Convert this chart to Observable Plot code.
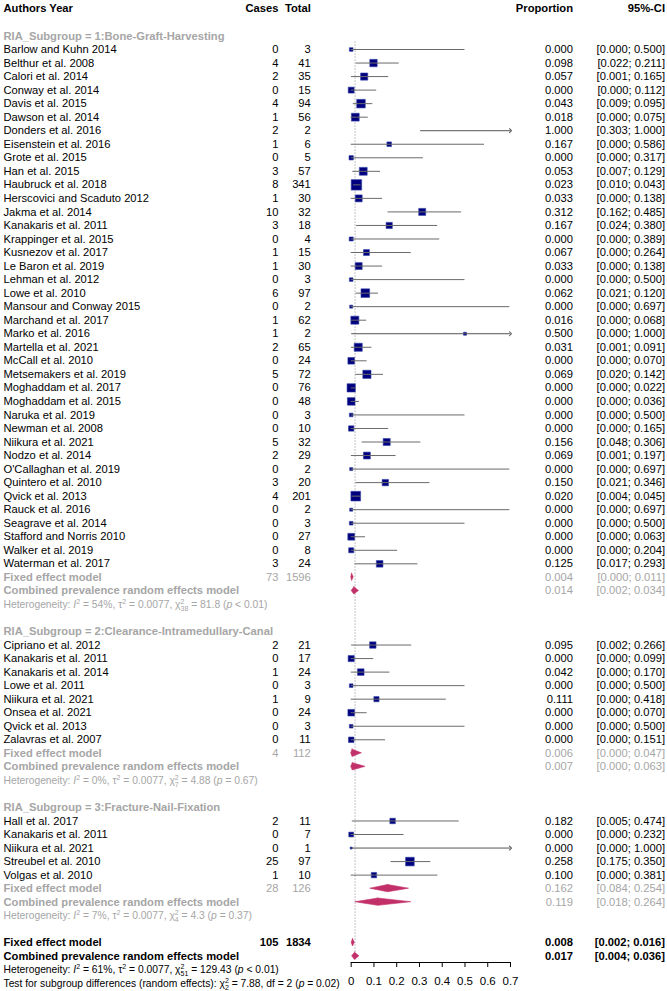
<!DOCTYPE html>
<html><head><meta charset="utf-8">
<script src="https://cdn.jsdelivr.net/npm/d3@7"></script>
<script src="https://cdn.jsdelivr.net/npm/@observablehq/plot@0.6"></script>
<style>body{margin:0;background:#fff}</style>
</head><body><div id="chart"></div>
<script>
// ---------- DATA ----------
const headerLabels = ["Authors Year", "Cases", "Total", "Proportion", "95%-CI"];
const subgroupLabels = ["RIA_Subgroup = 1:Bone-Graft-Harvesting", "RIA_Subgroup = 2:Clearance-Intramedullary-Canal", "RIA_Subgroup = 3:Fracture-Nail-Fixation"];

const sg1Authors = ["Barlow and Kuhn 2014","Belthur et al. 2008","Calori et al. 2014","Conway et al. 2014","Davis et al. 2015","Dawson et al. 2014","Donders et al. 2016","Eisenstein et al. 2016","Grote et al. 2015","Han et al. 2015","Haubruck et al. 2018","Herscovici and Scaduto 2012","Jakma et al. 2014","Kanakaris et al. 2011","Krappinger et al. 2015","Kusnezov et al. 2017","Le Baron et al. 2019","Lehman et al. 2012","Lowe et al. 2010","Mansour and Conway 2015","Marchand et al. 2017","Marko et al. 2016","Martella et al. 2021","McCall et al. 2010","Metsemakers et al. 2019","Moghaddam et al. 2017","Moghaddam et al. 2015","Naruka et al. 2019","Newman et al. 2008","Niikura et al. 2021","Nodzo et al. 2014","O'Callaghan et al. 2019","Quintero et al. 2010","Qvick et al. 2013","Rauck et al. 2016","Seagrave et al. 2014","Stafford and Norris 2010","Walker et al. 2019","Waterman et al. 2017"];
const sg1Cases = [0,4,2,0,4,1,2,1,0,3,8,1,10,3,0,1,1,0,6,0,1,1,2,0,5,0,0,0,0,5,2,0,3,4,0,0,0,0,3];
const sg1Total = [3,41,35,15,94,56,2,6,5,57,341,30,32,18,4,15,30,3,97,2,62,2,65,24,72,76,48,3,10,32,29,2,20,201,2,3,27,8,24];
const sg1Prop = [0.000,0.098,0.057,0.000,0.043,0.018,1.000,0.167,0.000,0.053,0.023,0.033,0.312,0.167,0.000,0.067,0.033,0.000,0.062,0.000,0.016,0.500,0.031,0.000,0.069,0.000,0.000,0.000,0.000,0.156,0.069,0.000,0.150,0.020,0.000,0.000,0.000,0.000,0.125];
const sg1Lower = [0.000,0.022,0.001,0.000,0.009,0.000,0.303,0.000,0.000,0.007,0.010,0.000,0.162,0.024,0.000,0.000,0.000,0.000,0.021,0.000,0.000,0.000,0.001,0.000,0.020,0.000,0.000,0.000,0.000,0.048,0.001,0.000,0.021,0.004,0.000,0.000,0.000,0.000,0.017];
const sg1Upper = [0.500,0.211,0.165,0.112,0.095,0.075,1.000,0.586,0.317,0.129,0.043,0.138,0.485,0.380,0.389,0.264,0.138,0.500,0.120,0.697,0.068,1.000,0.091,0.070,0.142,0.022,0.036,0.500,0.165,0.306,0.197,0.697,0.346,0.045,0.697,0.500,0.063,0.204,0.293];

const sg2Authors = ["Cipriano et al. 2012","Kanakaris et al. 2011","Kanakaris et al. 2014","Lowe et al. 2011","Niikura et al. 2021","Onsea et al. 2021","Qvick et al. 2013","Zalavras et al. 2007"];
const sg2Cases = [2,0,1,0,1,0,0,0];
const sg2Total = [21,17,24,3,9,24,3,11];
const sg2Prop = [0.095,0.000,0.042,0.000,0.111,0.000,0.000,0.000];
const sg2Lower = [0.002,0.000,0.000,0.000,0.000,0.000,0.000,0.000];
const sg2Upper = [0.266,0.099,0.170,0.500,0.418,0.070,0.500,0.151];

const sg3Authors = ["Hall et al. 2017","Kanakaris et al. 2011","Niikura et al. 2021","Streubel et al. 2010","Volgas et al. 2010"];
const sg3Cases = [2,0,0,25,1];
const sg3Total = [11,7,1,97,10];
const sg3Prop = [0.182,0.000,0.000,0.258,0.100];
const sg3Lower = [0.005,0.000,0.000,0.175,0.000];
const sg3Upper = [0.474,0.232,1.000,0.350,0.381];

const fixedCases = [73,4,28];
const fixedTotal = [1596,112,126];
const fixedProp = [0.004,0.006,0.162];
const fixedLower = [0.000,0.000,0.084];
const fixedUpper = [0.011,0.047,0.254];
const randomProp = [0.014,0.007,0.119];
const randomLower = [0.002,0.000,0.018];
const randomUpper = [0.034,0.063,0.264];
const hetI2 = ["54%","0%","7%"];
const hetTau2 = "0.0077";
const hetChi2 = ["81.8","4.88","4.3"];
const hetDf = ["38","7","4"];
const hetP = ["< 0.01","= 0.67","= 0.37"];

const overallFixed = {cases: 105, total: 1834, prop: 0.008, lower: 0.002, upper: 0.016};
const overallRandom = {prop: 0.017, lower: 0.004, upper: 0.036};
const overallHet = {i2: "61%", chi2: "129.43", df: "51", p: "< 0.01"};
const testSub = {chi2: "7.88", df: "2", p: "= 0.02"};

const xTicks = [0,0.1,0.2,0.3,0.4,0.5,0.6,0.7];
const xTickLabels = ["0","0.1","0.2","0.3","0.4","0.5","0.6","0.7"];
const fixedLabel = "Fixed effect model";
const randomLabel = "Combined prevalence random effects model";

// ---------- LAYOUT ----------
const W = 667, H = 991, ML = 350.7, XR = 510, XMAX = 0.7;
const FONT = "'Liberation Sans', Arial, Helvetica, sans-serif";
const GRAY = "#a6a6a6";
const FS = 11.2, FS_SMALL = 10.3;

const groups = [
  {authors: sg1Authors, cases: sg1Cases, total: sg1Total, prop: sg1Prop, lower: sg1Lower, upper: sg1Upper},
  {authors: sg2Authors, cases: sg2Cases, total: sg2Total, prop: sg2Prop, lower: sg2Lower, upper: sg2Upper},
  {authors: sg3Authors, cases: sg3Cases, total: sg3Total, prop: sg3Prop, lower: sg3Lower, upper: sg3Upper}
];

const f3 = v => v.toFixed(3);
const ci = (l, u) => `[${f3(l)}; ${f3(u)}]`;
const subDigits = s => s.replace(/\d/g, c => "₀₁₂₃₄₅₆₇₈₉"[+c]);

const cells = [];    // {row, col, text, style}
const studies = [];
const summaries = [];
const richParts = new Map();

function hetParts(i2, chi2, df, p) {
  return [
    {t: "n", s: "Heterogeneity: "}, {t: "i", s: "I"}, {t: "sup", s: "2"},
    {t: "n", s: ` = ${i2}, τ`}, {t: "sup", s: "2"},
    {t: "n", s: ` = ${hetTau2}, χ`}, {t: "supsub", s: "2", sub: df},
    {t: "n", s: ` = ${chi2} (`}, {t: "i", s: "p"}, {t: "n", s: ` ${p})`}
  ];
}
function hetPlain(i2, chi2, df, p) {
  return `Heterogeneity: I² = ${i2}, τ² = ${hetTau2}, χ²${subDigits(df)} = ${chi2} (p ${p})`;
}

headerLabels.forEach((h, i) => cells.push({row: -2, col: i, text: h, style: "D"}));

let row = 0;
groups.forEach((g, gi) => {
  cells.push({row, col: 0, text: subgroupLabels[gi], style: "B"}); row++;
  g.authors.forEach((a, i) => {
    studies.push({row, prop: g.prop[i], lower: g.lower[i], upper: g.upper[i], total: g.total[i]});
    cells.push({row, col: 0, text: a, style: "A"});
    cells.push({row, col: 1, text: String(g.cases[i]), style: "A"});
    cells.push({row, col: 2, text: String(g.total[i]), style: "A"});
    cells.push({row, col: 3, text: f3(g.prop[i]), style: "A"});
    cells.push({row, col: 4, text: ci(g.lower[i], g.upper[i]), style: "A"});
    row++;
  });
  cells.push({row, col: 0, text: fixedLabel, style: "B"});
  cells.push({row, col: 1, text: String(fixedCases[gi]), style: "C"});
  cells.push({row, col: 2, text: String(fixedTotal[gi]), style: "C"});
  cells.push({row, col: 3, text: f3(fixedProp[gi]), style: "C"});
  cells.push({row, col: 4, text: ci(fixedLower[gi], fixedUpper[gi]), style: "C"});
  summaries.push({id: "f" + gi, row, est: fixedProp[gi], lower: fixedLower[gi], upper: fixedUpper[gi]});
  row++;
  cells.push({row, col: 0, text: randomLabel, style: "B"});
  cells.push({row, col: 3, text: f3(randomProp[gi]), style: "C"});
  cells.push({row, col: 4, text: ci(randomLower[gi], randomUpper[gi]), style: "C"});
  summaries.push({id: "r" + gi, row, est: randomProp[gi], lower: randomLower[gi], upper: randomUpper[gi]});
  row++;
  const hp = hetPlain(hetI2[gi], hetChi2[gi], hetDf[gi], hetP[gi]);
  richParts.set(hp, hetParts(hetI2[gi], hetChi2[gi], hetDf[gi], hetP[gi]));
  cells.push({row, col: 0, text: hp, style: "E"}); row++;
  row++;
});
// overall
cells.push({row, col: 0, text: fixedLabel, style: "D"});
cells.push({row, col: 1, text: String(overallFixed.cases), style: "D"});
cells.push({row, col: 2, text: String(overallFixed.total), style: "D"});
cells.push({row, col: 3, text: f3(overallFixed.prop), style: "D"});
cells.push({row, col: 4, text: ci(overallFixed.lower, overallFixed.upper), style: "D"});
summaries.push({id: "of", row, est: overallFixed.prop, lower: overallFixed.lower, upper: overallFixed.upper});
row++;
cells.push({row, col: 0, text: randomLabel, style: "D"});
cells.push({row, col: 3, text: f3(overallRandom.prop), style: "D"});
cells.push({row, col: 4, text: ci(overallRandom.lower, overallRandom.upper), style: "D"});
summaries.push({id: "or", row, est: overallRandom.prop, lower: overallRandom.lower, upper: overallRandom.upper});
row++;
{
  const hp = hetPlain(overallHet.i2, overallHet.chi2, overallHet.df, overallHet.p);
  richParts.set(hp, hetParts(overallHet.i2, overallHet.chi2, overallHet.df, overallHet.p));
  cells.push({row, col: 0, text: hp, style: "F"}); row++;
  const tp = `Test for subgroup differences (random effects): χ²${subDigits(testSub.df)} = ${testSub.chi2}, df = ${testSub.df} (p ${testSub.p})`;
  richParts.set(tp, [
    {t: "n", s: "Test for subgroup differences (random effects): χ"}, {t: "supsub", s: "2", sub: testSub.df},
    {t: "n", s: ` = ${testSub.chi2}, df = ${testSub.df} (`}, {t: "i", s: "p"}, {t: "n", s: ` ${testSub.p})`}
  ]);
  cells.push({row, col: 0, text: tp, style: "F"});
}
const lastRow = row;

const styles = {
  A: {fill: "#000", fontWeight: "normal", fontSize: FS},
  B: {fill: GRAY, fontWeight: "bold", fontSize: FS},
  C: {fill: GRAY, fontWeight: "normal", fontSize: FS},
  D: {fill: "#000", fontWeight: "bold", fontSize: FS},
  E: {fill: GRAY, fontWeight: "normal", fontSize: FS_SMALL},
  F: {fill: "#000", fontWeight: "normal", fontSize: FS_SMALL}
};
const cols = [
  {frameAnchor: "left", dx: 3 - ML, textAnchor: "start"},
  {frameAnchor: "left", dx: 278 - ML, textAnchor: "end"},
  {frameAnchor: "left", dx: 310.3 - ML, textAnchor: "end"},
  {frameAnchor: "right", dx: 572.5 - XR, textAnchor: "end"},
  {frameAnchor: "right", dx: 664.5 - XR, textAnchor: "end"}
];

const textMarks = [];
cols.forEach((c, ci_) => {
  Object.entries(styles).forEach(([k, st]) => {
    const data = cells.filter(d => d.col === ci_ && d.style === k);
    if (data.length) textMarks.push(Plot.text(data, {y: "row", text: "text", ...c, ...st, fontFamily: FONT}));
  });
});

// diamonds
const H_D = 0.27;
const diamondPts = summaries.flatMap(s => [
  {id: s.id, y: s.row - H_D, x1: s.est, x2: s.est},
  {id: s.id, y: s.row, x1: s.lower, x2: s.upper},
  {id: s.id, y: s.row + H_D, x1: s.est, x2: s.est}
]);

const inRange = studies.filter(d => d.upper <= XMAX);
const arrowed = studies.filter(d => d.upper > XMAX);
const shown = studies.filter(d => d.prop <= XMAX);

const chart = Plot.plot({
  width: W, height: H,
  marginLeft: ML, marginRight: W - XR, marginTop: 0, marginBottom: 29,
  x: {domain: [0, XMAX]},
  y: {domain: [-2, lastRow], range: [8.4, 982.9], axis: null},
  r: {type: "log", domain: [1, 341], range: [1.15, 5.9]},
  style: {fontFamily: FONT, fontSize: FS + "px", background: "#fff", overflow: "visible"},
  marks: [
    Plot.ruleX([overallRandom.prop], {x: d => d, y1: () => 0.45, y2: () => 68.3, stroke: "#8a8a8a", strokeDasharray: "1,2", strokeWidth: 1}),
    Plot.dot(shown, {x: "prop", y: "row", r: "total", symbol: "square", fill: "#00007f", stroke: "#3444a6", strokeWidth: 0.6}),
    Plot.ruleY(inRange, {y: "row", x1: "lower", x2: "upper", stroke: "#6a6a6a", strokeWidth: 1}),
    Plot.link(arrowed, {x1: "lower", x2: () => XMAX, y1: "row", y2: "row", stroke: "#555", strokeWidth: 1, markerEnd: "arrow"}),
    Plot.areaX(diamondPts, {y: "y", x1: "x1", x2: "x2", z: "id", fill: "#c2306a", stroke: "#c2306a", strokeWidth: 0.6}),
    Plot.frame({anchor: "bottom", stroke: "#000"}),
    Plot.axisX({anchor: "bottom", ticks: xTicks, tickFormat: d => xTickLabels[xTicks.findIndex(t => Math.abs(t - d) < 1e-9)], tickSize: 5, tickPadding: 9, fontSize: 11.5, label: null, stroke: "#000"}),
    ...textMarks
  ]
});
document.getElementById("chart").appendChild(chart);

// rich text (italic, superscripts, subscripts) for heterogeneity lines
d3.select(chart).selectAll("text").each(function() {
  const parts = richParts.get(this.textContent);
  if (!parts) return;
  const el = d3.select(this);
  const fs = FS_SMALL, sfs = fs * 0.68;
  el.text(null);
  let shift = 0;
  const setShift = (ts, target) => { if (target !== shift) ts.attr("dy", target - shift); shift = target; };
  for (const p of parts) {
    if (p.t === "n" || p.t === "i") {
      const ts = el.append("tspan").text(p.s);
      setShift(ts, 0);
      if (p.t === "i") ts.attr("font-style", "italic");
    } else if (p.t === "sup") {
      const ts = el.append("tspan").attr("font-size", sfs).text(p.s);
      setShift(ts, -0.4 * fs);
    } else if (p.t === "supsub") {
      const ts = el.append("tspan").attr("font-size", sfs).text(p.s);
      setShift(ts, -0.4 * fs);
      const w = ts.node().getComputedTextLength ? ts.node().getComputedTextLength() : sfs * 0.556;
      const tb = el.append("tspan").attr("font-size", sfs).attr("dx", -w).text(p.sub);
      setShift(tb, 0.3 * fs);
    }
  }
});
</script>
</body></html>
